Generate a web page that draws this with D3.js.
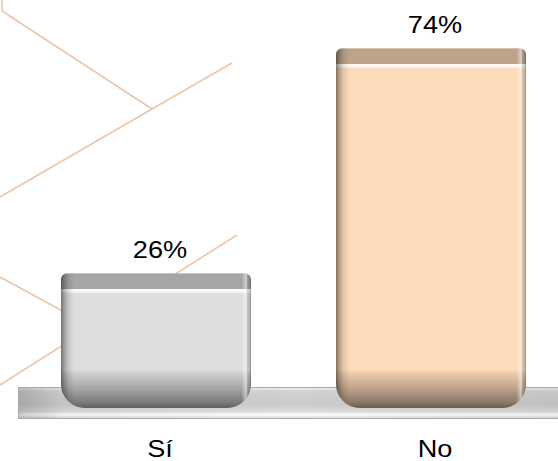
<!DOCTYPE html>
<html>
<head>
<meta charset="utf-8">
<script src="https://cdn.jsdelivr.net/npm/d3@7"></script>
<style>
  html, body { margin: 0; padding: 0; background: #fff; }
  svg { display: block; }
</style>
</head>
<body>
<div id="chart"></div>
<script>
// data
const categories = ['Sí', 'No'];
const values = [26, 74];
const labels = ['26%', '74%'];
const barColors = ['#DEDEDE', '#FDDAB9'];

const width = 558, height = 461;

const svg = d3.select('#chart').append('svg')
    .attr('width', width)
    .attr('height', height);

const defs = svg.append('defs');

// scales
let x = d3.scalePoint().domain(categories).range([160, 435]);
let y = d3.scaleLinear().domain([0, 80]).range([395, 20]);

const barW = 190,
    barShift = -4,   // front face sits a little left of the label centre
    bottomY = 408,   // rounded foot goes below the floor line
    rTop = 6,
    rBot = 24,
    bandH = 16;

// background decoration lines
const deco = [
  [[2, 0], [2, 11], [152, 109]],
  [[0, 197], [152, 109], [232, 63]],
  [[0, 277], [92, 327]],
  [[0, 385], [237, 235]]
];
svg.append('g')
  .selectAll('path')
  .data(deco)
  .enter().append('path')
  .attr('d', d3.line())
  .attr('fill', 'none')
  .attr('stroke', '#ECC6AA')
  .attr('stroke-width', 1.6);

// floor plate
let fg = defs.append('linearGradient').attr('id', 'floorV')
    .attr('x1', 0).attr('y1', 0).attr('x2', 0).attr('y2', 1);
[[0, '#f2f2f2'], [0.12, '#d2d2d2'], [0.55, '#cbcbcb'], [0.78, '#dedede'], [0.88, '#ffffff'], [1, '#d6d6d6']]
  .forEach(s => fg.append('stop').attr('offset', s[0]).attr('stop-color', s[1]));
let fh = defs.append('linearGradient').attr('id', 'floorH')
    .attr('x1', 0).attr('y1', 0).attr('x2', 1).attr('y2', 0);
[[0, 0.18], [0.08, 0.04], [0.5, 0], [1, 0.06]]
  .forEach(s => fh.append('stop').attr('offset', s[0]).attr('stop-color', '#000').attr('stop-opacity', s[1]));

svg.append('rect')
  .attr('x', 18.5).attr('y', 387.5)
  .attr('width', 560).attr('height', 31)
  .attr('fill', 'url(#floorV)')
  .attr('stroke', '#a9a9a9')
  .attr('stroke-width', 1);
svg.append('rect')
  .attr('x', 19).attr('y', 388)
  .attr('width', 559).attr('height', 30)
  .attr('fill', 'url(#floorH)');

// shading gradients for the bars
let bottomGrad = defs.append('linearGradient').attr('id', 'barBottom')
    .attr('gradientUnits', 'userSpaceOnUse')
    .attr('x1', 0).attr('y1', 370).attr('x2', 0).attr('y2', bottomY);
[[0, 0], [0.08, 0.07], [0.5, 0.26], [0.85, 0.45], [1, 0.58]]
  .forEach(s => bottomGrad.append('stop').attr('offset', s[0]).attr('stop-color', '#000').attr('stop-opacity', s[1]));

let sideGrad = defs.append('linearGradient').attr('id', 'barSide')
    .attr('x1', 0).attr('y1', 0).attr('x2', 1).attr('y2', 0);
[[0, '#000', 0.5], [0.015, '#000', 0.3], [0.04, '#000', 0.1], [0.07, '#000', 0], [0.95, '#fff', 0], [0.975, '#fff', 0.5], [0.99, '#000', 0.12], [1, '#000', 0.4]]
  .forEach(s => sideGrad.append('stop').attr('offset', s[0]).attr('stop-color', s[1]).attr('stop-opacity', s[2]));

let hiGrad = defs.append('linearGradient').attr('id', 'barHi')
    .attr('x1', 0).attr('y1', 0).attr('x2', 0).attr('y2', 1);
[[0, 1], [0.4, 0.8], [1, 0]]
  .forEach(s => hiGrad.append('stop').attr('offset', s[0]).attr('stop-color', '#fff').attr('stop-opacity', s[1]));

function barPath(x0, y0, w, y1) {
  let p = d3.path();
  p.moveTo(x0, y0 + rTop);
  p.arcTo(x0, y0, x0 + rTop, y0, rTop);
  p.lineTo(x0 + w - rTop, y0);
  p.arcTo(x0 + w, y0, x0 + w, y0 + rTop, rTop);
  p.lineTo(x0 + w, y1 - rBot);
  p.arcTo(x0 + w, y1, x0 + w - rBot, y1, rBot);
  p.lineTo(x0 + rBot, y1);
  p.arcTo(x0, y1, x0, y1 - rBot, rBot);
  p.closePath();
  return p.toString();
}

let bars = svg.append('g')
  .selectAll('g')
  .data(categories)
  .enter().append('g');

bars.each(function(c, i) {
  let g = d3.select(this);
  let x0 = x(c) - barW / 2 + barShift;
  let yTop = y(values[i]);
  let d = barPath(x0, yTop, barW, bottomY);

  defs.append('clipPath').attr('id', 'clip' + i)
    .append('path').attr('d', d);

  let inner = g.append('g').attr('clip-path', 'url(#clip' + i + ')');
  inner.append('path').attr('d', d).attr('fill', barColors[i]);
  inner.append('rect')
    .attr('x', x0).attr('y', 360)
    .attr('width', barW).attr('height', bottomY - 360)
    .attr('fill', 'url(#barBottom)');
  inner.append('rect')
    .attr('x', x0).attr('y', yTop)
    .attr('width', barW).attr('height', bandH)
    .attr('fill', '#000').attr('fill-opacity', 0.25);
  inner.append('rect')
    .attr('x', x0).attr('y', yTop + bandH)
    .attr('width', barW).attr('height', 5)
    .attr('fill', 'url(#barHi)');
  inner.append('rect')
    .attr('x', x0).attr('y', yTop)
    .attr('width', barW).attr('height', bottomY - yTop)
    .attr('fill', 'url(#barSide)');
});

// value labels
svg.append('g')
  .selectAll('text')
  .data(categories)
  .enter().append('text')
  .attr('transform', (c, i) => `translate(${x(c)},${y(values[i]) - 15}) scale(1.18,1)`)
  .attr('text-anchor', 'middle')
  .style('font-family', 'Arial, "Liberation Sans", sans-serif')
  .style('font-size', '23px')
  .attr('fill', '#000')
  .text((c, i) => labels[i]);

// category labels
svg.append('g')
  .selectAll('text')
  .data(categories)
  .enter().append('text')
  .attr('transform', c => `translate(${x(c)},457) scale(1.18,1)`)
  .attr('text-anchor', 'middle')
  .style('font-family', 'Arial, "Liberation Sans", sans-serif')
  .style('font-size', '23px')
  .attr('fill', '#000')
  .text(c => c);
</script>
</body>
</html>
